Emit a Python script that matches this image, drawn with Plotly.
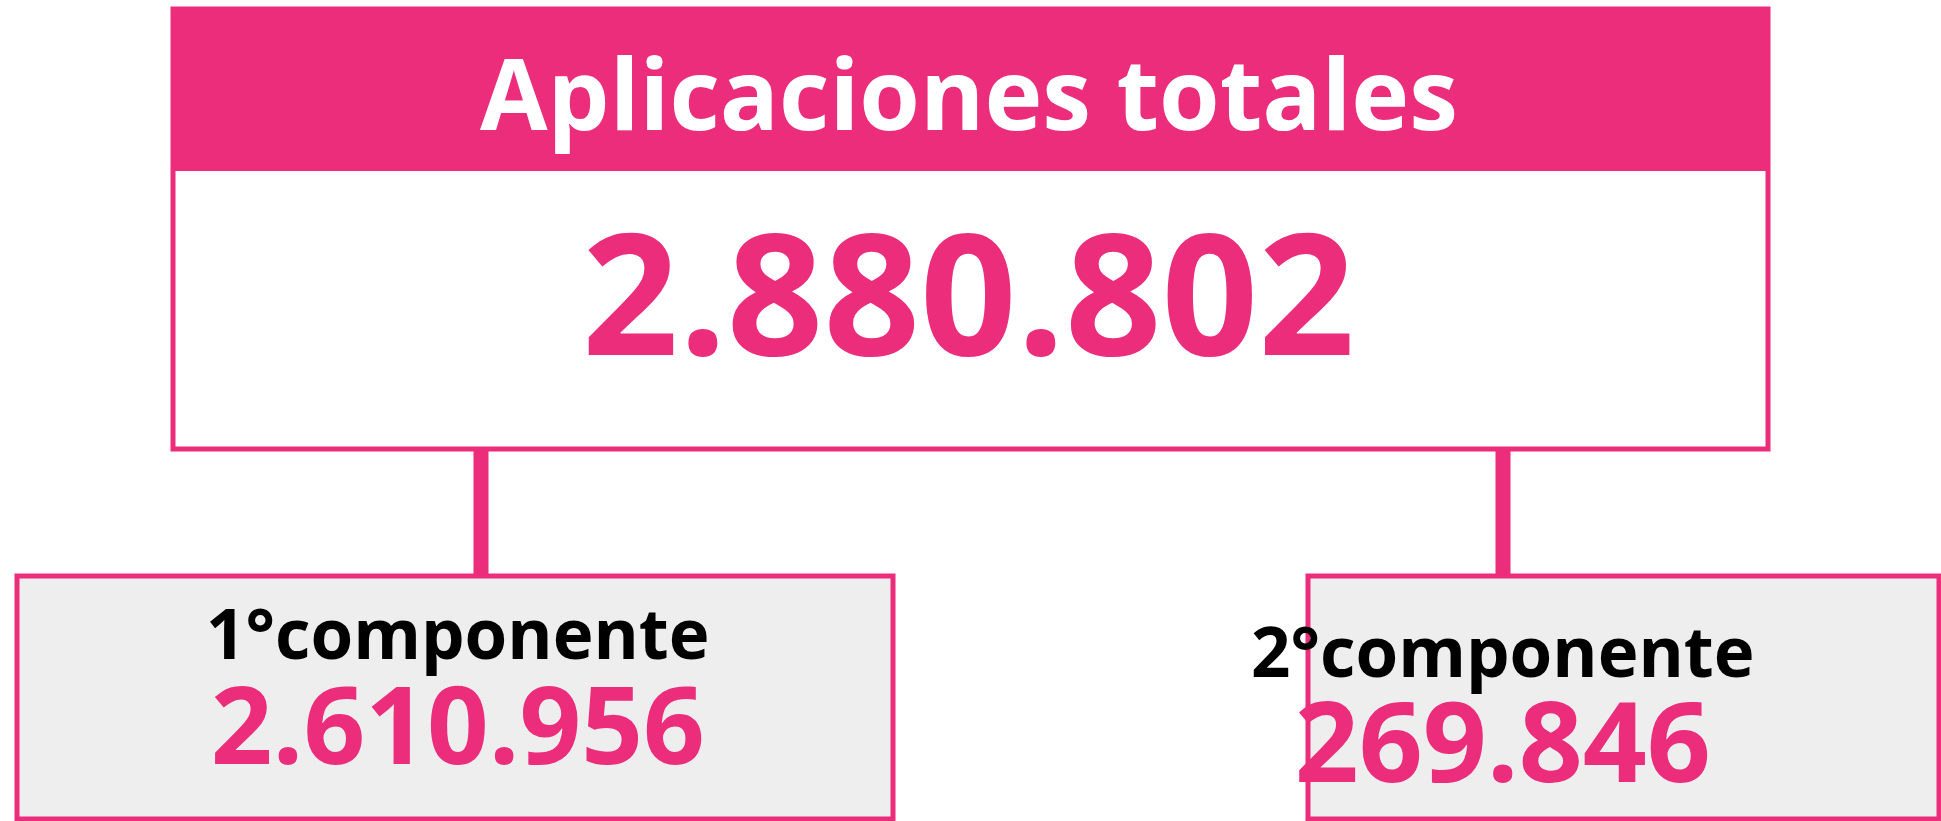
import plotly.graph_objects as go

# ---- data ----
total_label = "Aplicaciones totales"
total_value = 2880802
component_labels = ["1°componente", "2°componente"]
component_values = [2610956, 269846]

PINK = "#EC2D7B"
GRAY = "#EEEEEE"
W, H = 1941, 821


def fmt(v):
    return f"{v:,}".replace(",", ".")


fig = go.Figure()

shapes = []
# top box
top = dict(x0=173, x1=1768, y0=9, y1=449, head=171)
shapes.append(dict(type="rect", x0=top["x0"], x1=top["x1"], y0=top["y0"], y1=top["head"],
                   fillcolor=PINK, line=dict(width=0), layer="below"))
shapes.append(dict(type="rect", x0=top["x0"], x1=top["x1"], y0=top["y0"], y1=top["y1"],
                   fillcolor="rgba(0,0,0,0)", line=dict(color=PINK, width=5)))

# bottom boxes
boxes = [dict(x0=17, x1=893, cx=481, tx=458, ty=690),
         dict(x0=1308, x1=1939, cx=1503, tx=1503, ty=709)]
for b in boxes:
    shapes.append(dict(type="rect", x0=b["x0"], x1=b["x1"], y0=576, y1=819,
                       fillcolor=GRAY, line=dict(color=PINK, width=5), layer="below"))
    shapes.append(dict(type="line", x0=b["cx"], x1=b["cx"], y0=449, y1=577,
                       line=dict(color=PINK, width=15)))

annotations = []
FONT = "Open Sans"
annotations.append(dict(x=969, y=129, text=total_label, showarrow=False, xanchor="center",
                        yanchor="middle", yshift=37,
                        font=dict(family=FONT, size=98, color="white", weight=700)))
annotations.append(dict(x=968, y=352, text=fmt(total_value), showarrow=False, xanchor="center",
                        yanchor="middle", yshift=63,
                        font=dict(family=FONT, size=169, color=PINK, weight=700)))

for i, (b, lab, val) in enumerate(zip(boxes, component_labels, component_values)):
    vsize = 108 if i == 0 else 112
    txt = (f"<span style='font-size:69px;color:black'>{lab}</span><br>"
           f"<span style='font-size:{vsize}px;color:{PINK}'>{fmt(val)}</span>")
    annotations.append(dict(x=b["tx"], y=b["ty"], text=txt, showarrow=False, xanchor="center",
                            yanchor="middle", align="center",
                            font=dict(family=FONT, size=81, color=PINK, weight=700)))

fig.update_layout(
    width=W, height=H,
    margin=dict(l=0, r=0, t=0, b=0),
    paper_bgcolor="white", plot_bgcolor="white",
    xaxis=dict(range=[0, W], visible=False, fixedrange=True),
    yaxis=dict(range=[H, 0], visible=False, fixedrange=True),
    shapes=shapes, annotations=annotations, showlegend=False,
)

fig.write_html("out.html", config={"displayModeBar": False},
               post_script="document.body.style.margin='0';document.body.style.overflow='hidden';")
